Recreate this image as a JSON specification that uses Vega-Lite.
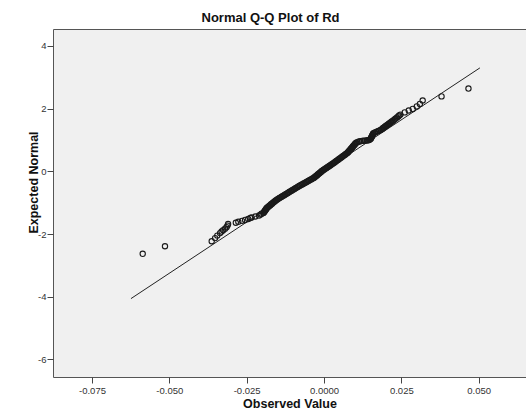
{
  "$schema": "https://vega.github.io/schema/vega-lite/v6.json",
  "width": 473,
  "height": 348,
  "autosize": "none",
  "padding": {"left": 53, "top": 29, "right": 0, "bottom": 37},
  "background": "white",
  "config": {
    "view": {"fill": "#F0F0F0", "stroke": "#555555", "strokeWidth": 1},
    "font": "Liberation Sans"
  },
  "title": {
    "text": "Normal Q-Q Plot of Rd",
    "font": "Liberation Sans",
    "fontSize": 13,
    "fontWeight": "bold",
    "color": "#111111",
    "anchor": "middle",
    "dx": -19,
    "dy": 11,
    "baseline": "alphabetic",
    "offset": 5
  },
  "datasets": {
    "pts": [
      {"obs": -0.0586, "exp": -2.63}, {"obs": -0.0514, "exp": -2.39},
      {"obs": -0.0363, "exp": -2.23}, {"obs": -0.0352, "exp": -2.13}, {"obs": -0.0345, "exp": -2.05},
      {"obs": -0.0336, "exp": -1.97}, {"obs": -0.0331, "exp": -1.92}, {"obs": -0.0326, "exp": -1.88},
      {"obs": -0.0320, "exp": -1.83}, {"obs": -0.0315, "exp": -1.78}, {"obs": -0.0312, "exp": -1.73},
      {"obs": -0.0310, "exp": -1.68}, {"obs": -0.0285, "exp": -1.64}, {"obs": -0.0277, "exp": -1.61},
      {"obs": -0.0265, "exp": -1.58}, {"obs": -0.0255, "exp": -1.55}, {"obs": -0.0245, "exp": -1.52},
      {"obs": -0.0238, "exp": -1.49}, {"obs": -0.0234, "exp": -1.47}, {"obs": -0.0222, "exp": -1.44},
      {"obs": -0.0210, "exp": -1.41}, {"obs": -0.0205, "exp": -1.38}, {"obs": -0.0202, "exp": -1.35},
      {"obs": -0.0196, "exp": -1.33}, {"obs": -0.0195, "exp": -1.31}, {"obs": -0.0193, "exp": -1.29},
      {"obs": -0.0192, "exp": -1.27}, {"obs": -0.0190, "exp": -1.25}, {"obs": -0.0189, "exp": -1.23},
      {"obs": -0.0188, "exp": -1.21}, {"obs": -0.0186, "exp": -1.19}, {"obs": -0.0185, "exp": -1.17},
      {"obs": -0.0183, "exp": -1.15}, {"obs": -0.0180, "exp": -1.13}, {"obs": -0.0178, "exp": -1.11},
      {"obs": -0.0175, "exp": -1.09}, {"obs": -0.0173, "exp": -1.07}, {"obs": -0.0171, "exp": -1.05},
      {"obs": -0.0168, "exp": -1.03}, {"obs": -0.0166, "exp": -1.01}, {"obs": -0.0163, "exp": -0.99},
      {"obs": -0.0161, "exp": -0.97}, {"obs": -0.0158, "exp": -0.95}, {"obs": -0.0156, "exp": -0.93},
      {"obs": -0.0153, "exp": -0.91}, {"obs": -0.0150, "exp": -0.89}, {"obs": -0.0147, "exp": -0.87},
      {"obs": -0.0144, "exp": -0.85}, {"obs": -0.0140, "exp": -0.83}, {"obs": -0.0137, "exp": -0.81},
      {"obs": -0.0134, "exp": -0.79}, {"obs": -0.0130, "exp": -0.77}, {"obs": -0.0127, "exp": -0.75},
      {"obs": -0.0124, "exp": -0.73}, {"obs": -0.0120, "exp": -0.71}, {"obs": -0.0117, "exp": -0.69},
      {"obs": -0.0114, "exp": -0.67}, {"obs": -0.0111, "exp": -0.65}, {"obs": -0.0107, "exp": -0.63},
      {"obs": -0.0104, "exp": -0.61}, {"obs": -0.0101, "exp": -0.59}, {"obs": -0.0097, "exp": -0.57},
      {"obs": -0.0094, "exp": -0.55}, {"obs": -0.0091, "exp": -0.53}, {"obs": -0.0087, "exp": -0.51},
      {"obs": -0.0084, "exp": -0.49}, {"obs": -0.0080, "exp": -0.47}, {"obs": -0.0077, "exp": -0.45},
      {"obs": -0.0073, "exp": -0.43}, {"obs": -0.0069, "exp": -0.41}, {"obs": -0.0066, "exp": -0.39},
      {"obs": -0.0062, "exp": -0.37}, {"obs": -0.0058, "exp": -0.35}, {"obs": -0.0055, "exp": -0.33},
      {"obs": -0.0051, "exp": -0.31}, {"obs": -0.0048, "exp": -0.29}, {"obs": -0.0044, "exp": -0.27},
      {"obs": -0.0040, "exp": -0.25}, {"obs": -0.0037, "exp": -0.23}, {"obs": -0.0033, "exp": -0.21},
      {"obs": -0.0031, "exp": -0.19}, {"obs": -0.0028, "exp": -0.17}, {"obs": -0.0026, "exp": -0.15},
      {"obs": -0.0023, "exp": -0.13}, {"obs": -0.0021, "exp": -0.11}, {"obs": -0.0019, "exp": -0.09},
      {"obs": -0.0016, "exp": -0.07}, {"obs": -0.0014, "exp": -0.05}, {"obs": -0.0011, "exp": -0.03},
      {"obs": -0.0009, "exp": -0.01}, {"obs": -0.0007, "exp": 0.01}, {"obs": -0.0004, "exp": 0.03},
      {"obs": -0.0001, "exp": 0.05}, {"obs": 0.0002, "exp": 0.07}, {"obs": 0.0005, "exp": 0.09},
      {"obs": 0.0008, "exp": 0.11}, {"obs": 0.0011, "exp": 0.13}, {"obs": 0.0014, "exp": 0.15},
      {"obs": 0.0017, "exp": 0.17}, {"obs": 0.0020, "exp": 0.19}, {"obs": 0.0023, "exp": 0.21},
      {"obs": 0.0026, "exp": 0.23}, {"obs": 0.0029, "exp": 0.25}, {"obs": 0.0032, "exp": 0.27},
      {"obs": 0.0035, "exp": 0.29}, {"obs": 0.0037, "exp": 0.31}, {"obs": 0.0040, "exp": 0.33},
      {"obs": 0.0043, "exp": 0.35}, {"obs": 0.0046, "exp": 0.37}, {"obs": 0.0048, "exp": 0.39},
      {"obs": 0.0051, "exp": 0.41}, {"obs": 0.0054, "exp": 0.43}, {"obs": 0.0057, "exp": 0.45},
      {"obs": 0.0059, "exp": 0.47}, {"obs": 0.0062, "exp": 0.49}, {"obs": 0.0065, "exp": 0.51},
      {"obs": 0.0068, "exp": 0.53}, {"obs": 0.0070, "exp": 0.55}, {"obs": 0.0073, "exp": 0.57},
      {"obs": 0.0076, "exp": 0.59}, {"obs": 0.0078, "exp": 0.61}, {"obs": 0.0079, "exp": 0.63},
      {"obs": 0.0081, "exp": 0.65}, {"obs": 0.0083, "exp": 0.67}, {"obs": 0.0085, "exp": 0.69},
      {"obs": 0.0086, "exp": 0.71}, {"obs": 0.0088, "exp": 0.73}, {"obs": 0.0090, "exp": 0.75},
      {"obs": 0.0092, "exp": 0.77}, {"obs": 0.0093, "exp": 0.79}, {"obs": 0.0095, "exp": 0.81},
      {"obs": 0.0097, "exp": 0.83}, {"obs": 0.0099, "exp": 0.85}, {"obs": 0.0100, "exp": 0.87},
      {"obs": 0.0102, "exp": 0.89}, {"obs": 0.0104, "exp": 0.91}, {"obs": 0.0108, "exp": 0.93},
      {"obs": 0.0113, "exp": 0.95}, {"obs": 0.0118, "exp": 0.96}, {"obs": 0.0123, "exp": 0.97},
      {"obs": 0.0128, "exp": 0.975}, {"obs": 0.0133, "exp": 0.98}, {"obs": 0.0138, "exp": 0.985},
      {"obs": 0.0142, "exp": 0.99}, {"obs": 0.0146, "exp": 1.00}, {"obs": 0.0149, "exp": 1.02},
      {"obs": 0.0151, "exp": 1.04}, {"obs": 0.0152, "exp": 1.06}, {"obs": 0.0153, "exp": 1.08},
      {"obs": 0.0154, "exp": 1.10}, {"obs": 0.0155, "exp": 1.12}, {"obs": 0.0156, "exp": 1.14},
      {"obs": 0.0157, "exp": 1.16}, {"obs": 0.0158, "exp": 1.18}, {"obs": 0.0159, "exp": 1.20},
      {"obs": 0.0160, "exp": 1.22}, {"obs": 0.0165, "exp": 1.24}, {"obs": 0.0169, "exp": 1.26},
      {"obs": 0.0174, "exp": 1.28}, {"obs": 0.0178, "exp": 1.30}, {"obs": 0.0183, "exp": 1.32},
      {"obs": 0.0186, "exp": 1.34}, {"obs": 0.0189, "exp": 1.36}, {"obs": 0.0191, "exp": 1.38},
      {"obs": 0.0194, "exp": 1.40}, {"obs": 0.0197, "exp": 1.42}, {"obs": 0.0199, "exp": 1.44},
      {"obs": 0.0202, "exp": 1.46}, {"obs": 0.0205, "exp": 1.48}, {"obs": 0.0208, "exp": 1.50},
      {"obs": 0.0210, "exp": 1.52}, {"obs": 0.0213, "exp": 1.54}, {"obs": 0.0216, "exp": 1.56},
      {"obs": 0.0218, "exp": 1.58}, {"obs": 0.0221, "exp": 1.60}, {"obs": 0.0225, "exp": 1.63},
      {"obs": 0.0229, "exp": 1.66}, {"obs": 0.0232, "exp": 1.69}, {"obs": 0.0236, "exp": 1.72},
      {"obs": 0.0240, "exp": 1.75}, {"obs": 0.0243, "exp": 1.78}, {"obs": 0.0247, "exp": 1.81},
      {"obs": 0.0261, "exp": 1.88}, {"obs": 0.0274, "exp": 1.94}, {"obs": 0.0287, "exp": 1.99},
      {"obs": 0.0300, "exp": 2.07}, {"obs": 0.0310, "exp": 2.15}, {"obs": 0.0319, "exp": 2.26},
      {"obs": 0.0380, "exp": 2.39}, {"obs": 0.0467, "exp": 2.64}
    ],
    "ref": [
      {"obs": -0.0624, "exp": -4.06},
      {"obs": 0.0504, "exp": 3.30}
    ]
  },
  "layer": [
    {
      "data": {"name": "ref"},
      "mark": {"type": "line", "color": "#222222", "strokeWidth": 1},
      "encoding": {
        "x": {"field": "obs", "type": "quantitative"},
        "y": {"field": "exp", "type": "quantitative"}
      }
    },
    {
      "data": {"name": "pts"},
      "mark": {"type": "point", "shape": "circle", "filled": false, "size": 28, "stroke": "#1a1a1a", "strokeWidth": 1.1, "opacity": 1},
      "encoding": {
        "x": {
          "field": "obs", "type": "quantitative",
          "scale": {"domain": [-0.0876, 0.0653], "nice": false, "zero": false},
          "axis": {
            "title": "Observed Value",
            "values": [-0.075, -0.05, -0.025, 0, 0.025, 0.05],
            "labelExpr": "datum.value == 0 ? '0.0000' : (datum.value < 0 ? '-' + format(-datum.value, '.3f') : format(datum.value, '.3f'))",
            "grid": false, "domain": false,
            "tickColor": "#444444", "tickSize": 6,
            "labelFont": "Liberation Sans", "labelFontSize": 9.5, "labelColor": "#333333", "labelPadding": 2,
            "titleFont": "Liberation Sans", "titleFontSize": 12.5, "titleFontWeight": "bold", "titleColor": "#111111",
            "titleBaseline": "alphabetic", "titleY": 30
          }
        },
        "y": {
          "field": "exp", "type": "quantitative",
          "scale": {"domain": [-6.56, 4.54], "nice": false, "zero": false},
          "axis": {
            "title": "Expected Normal",
            "values": [-6, -4, -2, 0, 2, 4],
            "labelExpr": "datum.value < 0 ? '-' + format(-datum.value, 'd') : format(datum.value, 'd')",
            "grid": false, "domain": false,
            "tickColor": "#444444", "tickSize": 6,
            "labelFont": "Liberation Sans", "labelFontSize": 9.5, "labelColor": "#333333", "labelPadding": 1,
            "titleFont": "Liberation Sans", "titleFontSize": 12.5, "titleFontWeight": "bold", "titleColor": "#111111",
            "titleX": -13, "titleY": 153
          }
        }
      }
    }
  ]
}
